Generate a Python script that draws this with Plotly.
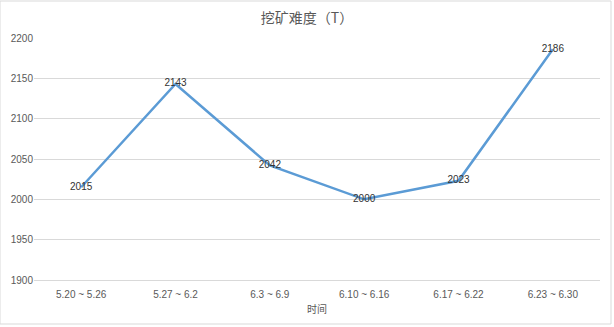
import plotly.graph_objects as go

categories = ["5.20 ~ 5.26", "5.27 ~ 6.2", "6.3 ~ 6.9", "6.10 ~ 6.16", "6.17 ~ 6.22", "6.23 ~ 6.30"]
values = [2015, 2143, 2042, 2000, 2023, 2186]
y_ticks = [1900, 1950, 2000, 2050, 2100, 2150, 2200]

fig = go.Figure()
fig.add_trace(go.Scatter(
    x=categories, y=values, mode="lines+text",
    text=[str(v) for v in values], textposition="middle center",
    textfont=dict(size=10, color="#333333", family="Liberation Sans, Arial"),
    line=dict(color="#5B9BD5", width=2.5),
    hoverinfo="x+y", showlegend=False,
))

fig.update_layout(
    width=614, height=327,
    margin=dict(l=34, r=14, t=38, b=47),
    paper_bgcolor="white", plot_bgcolor="white",
    title=dict(text="挖矿难度（T）", x=0.5, xanchor="center", y=0.945, yanchor="middle",
               font=dict(size=14, color="#595959", family="Noto Sans CJK SC")),
    xaxis=dict(type="category", range=[-0.5, len(categories) - 0.5], showgrid=False,
               showline=True, linecolor="#d9d9d9",
               ticks="outside", ticklen=5, tickcolor="rgba(0,0,0,0)",
               tickfont=dict(size=10, color="#595959", family="Liberation Sans, Arial"),
               title=dict(text="时间", font=dict(size=10, color="#595959", family="Noto Sans CJK SC"), standoff=6)),
    yaxis=dict(range=[1900, 2200], tickvals=y_ticks, showgrid=True, gridcolor="#d9d9d9",
               zeroline=False, showline=False, ticks="",
               tickfont=dict(size=10, color="#595959", family="Liberation Sans, Arial")),
    shapes=[dict(type="rect", xref="paper", yref="paper",
                 x0=-34/566, x1=(566+11)/566, y0=-44/242, y1=(242+37)/242,
                 line=dict(color="#d9d9d9", width=1), fillcolor="rgba(0,0,0,0)", layer="below")],
)

fig.write_html("out.html")
